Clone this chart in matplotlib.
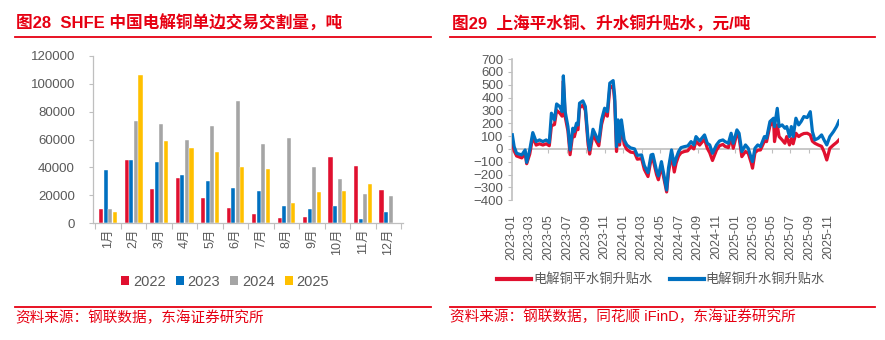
import matplotlib
matplotlib.use('Agg')
import matplotlib.pyplot as plt
import matplotlib.dates as mdates
from matplotlib.lines import Line2D
from matplotlib.patches import Patch
from matplotlib.ticker import FixedLocator
import numpy as np
import pandas as pd

plt.rcParams['font.family'] = ['Liberation Sans', 'Noto Sans CJK SC']

# ---------------- data: left chart ----------------
months = ['1月', '2月', '3月', '4月', '5月', '6月', '7月', '8月', '9月', '10月', '11月', '12月']
years = ['2022', '2023', '2024', '2025']
v2022 = [10000, 45500, 24700, 32100, 18200, 10800, 6500, 3800, 4600, 47700, 41200, 23700]
v2023 = [38300, 45500, 43800, 34500, 30200, 25100, 23200, 12500, 10300, 12200, 2900, 7900]
v2024 = [10300, 73500, 71100, 59900, 70000, 87700, 57000, 61300, 40000, 31400, 20800, 19200]
v2025 = [8100, 106300, 58700, 53700, 50800, 40000, 39000, 14400, 22000, 23200, 28000, np.nan]

# ---------------- data: right chart ----------------
dates = [
    '2023-01-03', '2023-01-09', '2023-01-17', '2023-02-03', '2023-02-14', '2023-02-19', '2023-03-01',
    '2023-03-11', '2023-03-22', '2023-04-02', '2023-04-13', '2023-04-24', '2023-05-04', '2023-05-11',
    '2023-05-21', '2023-05-28', '2023-06-07', '2023-06-15', '2023-06-19', '2023-06-25', '2023-07-04',
    '2023-07-11', '2023-07-20', '2023-07-25', '2023-08-01', '2023-08-06', '2023-08-11', '2023-08-22',
    '2023-08-30', '2023-09-08', '2023-09-13', '2023-09-24', '2023-10-05', '2023-10-13', '2023-10-22',
    '2023-11-01', '2023-11-10', '2023-11-18', '2023-11-29', '2023-12-04', '2023-12-10', '2023-12-15',
    '2023-12-20', '2023-12-26',
    '2024-01-04', '2024-01-13', '2024-01-25', '2024-02-07', '2024-02-16', '2024-03-01', '2024-03-10',
    '2024-03-22', '2024-04-01', '2024-04-07', '2024-04-19', '2024-04-25', '2024-05-05', '2024-05-13',
    '2024-05-22', '2024-05-28', '2024-06-07', '2024-06-16', '2024-06-22', '2024-06-30', '2024-07-08',
    '2024-07-19', '2024-07-30', '2024-08-10', '2024-08-19', '2024-08-26', '2024-09-07', '2024-09-14',
    '2024-09-23', '2024-10-02', '2024-10-10', '2024-10-19', '2024-11-01', '2024-11-11', '2024-11-22',
    '2024-11-29',
    '2024-12-10', '2024-12-19', '2024-12-26', '2025-01-07', '2025-01-14', '2025-01-23', '2025-02-04',
    '2025-02-13', '2025-02-23', '2025-02-27', '2025-03-07', '2025-03-16', '2025-03-25', '2025-04-07',
    '2025-04-14', '2025-04-25', '2025-05-07', '2025-05-10', '2025-05-19', '2025-05-25', '2025-06-04',
    '2025-06-13', '2025-06-19', '2025-06-28', '2025-07-04', '2025-07-10', '2025-07-19', '2025-07-28',
    '2025-08-05', '2025-08-14', '2025-08-25', '2025-09-04', '2025-09-11', '2025-09-19', '2025-09-30',
    '2025-10-11', '2025-10-19', '2025-10-28', '2025-11-07', '2025-11-19', '2025-11-29', '2025-12-07',
]
premium_flat = [  # 电解铜平水铜升贴水 (red)
    60, -15, -55, -70, -35, -115, -40, 95, 30, 40, 30, 40, 25, 180, 190, 300, 280, 255, 530, 250, 140,
    -45, 120, 95, 160, 150, 320, 340, 300, 35, -40, 115, 60, 25, 190, 280, 255, 470, 495, 370, -20, 190,
    30, 190,
    35, -5, -25, -30, -80, -75, -160, -215, -80, -75, -200, -240, -130, -230, -335, -185, -40, -180,
    -110, -55, -30, -20, -15, 20, 0, 60, 30, 50, 75, 5, -30, -90, -10, 25, 35, 20,
    10, 96, 5, 122, 90, -60, -20, -34, -110, -150, -30, -10, -8, 60, 57, 180, 213, 57, 187, 96, 70,
    44, 96, 31, 80, 40, 122, 96, 110, 120, 122, 109, 60, 44, 31, 20, -21, -86, 5, 31, 50, 70,
]
premium_high = [  # 电解铜升水铜升贴水 (blue)
    110, 18, -34, -47, -8, -105, -8, 127, 57, 70, 57, 70, 50, 278, 226, 350, 330, 290, 569, 290, 174,
    -8, 161, 135, 200, 187, 356, 374, 330, 70, -8, 153, 96, 57, 226, 317, 290, 512, 532, 408, 18, 226,
    55, 226,
    70, 30, 8, 0, -50, -47, -130, -185, -47, -42, -170, -210, -99, -202, -320, -150, -8, -125, -73,
    -21, 10, 18, 23, 57, 31, 96, 62, 83, 109, 44, 31, -34, 31, 62, 70, 57,
    44, 122, 44, 148, 122, -21, 31, 5, -73, -99, 5, 31, 18, 96, 83, 213, 239, 174, 316, 174, 187,
    161, 174, 96, 174, 96, 239, 187, 213, 252, 244, 290, 135, 70, 83, 109, 70, 31, 96, 135, 174, 218,
]
series_names = ['电解铜平水铜升贴水', '电解铜升水铜升贴水']

# ---------------- style ----------------
W, H = 885, 340
RED_TXT = '#E60012'
C_RED = '#E0102F'
C_BLUE = '#0070C0'
C_GRAY = '#A5A5A5'
C_YEL = '#FFC000'
TICK_C = '#595959'
SPINE_C = '#BFBFBF'

fig = plt.figure(figsize=(W / 100, H / 100), dpi=100)
fig.patch.set_facecolor('white')


def px_axes(x0, y0, x1, y1):
    return fig.add_axes([x0 / W, 1 - y1 / H, (x1 - x0) / W, (y1 - y0) / H])


def hline(x0, x1, y, lw=1.3):
    fig.add_artist(Line2D([x0 / W, x1 / W], [1 - y / H, 1 - y / H], color=RED_TXT, lw=lw,
                          transform=fig.transFigure))


# titles and source lines
fig.text(16 / W, 1 - 23 / H, '图28  SHFE 中国电解铜单边交易交割量，吨', color=RED_TXT,
         fontsize=12, fontweight='bold', va='center', ha='left')
fig.text(452 / W, 1 - 23 / H, '图29  上海平水铜、升水铜升贴水，元/吨', color=RED_TXT,
         fontsize=12, fontweight='bold', va='center', ha='left')
hline(15, 431, 36.5)
hline(450, 875, 36.5)
hline(15, 431, 306.5)
hline(450, 875, 306.5)
fig.text(15 / W, 1 - 318 / H, '资料来源：钢联数据，东海证券研究所', color=RED_TXT,
         fontsize=10.5, va='center', ha='left')
fig.text(450 / W, 1 - 317 / H, '资料来源：钢联数据，同花顺 iFinD，东海证券研究所', color=RED_TXT,
         fontsize=10.5, va='center', ha='left')

# ---------------- left chart ----------------
ax1 = px_axes(93, 56, 403, 223)
x = np.arange(len(months))
vals = [v2022, v2023, v2024, v2025]
cols = [C_RED, C_BLUE, C_GRAY, C_YEL]
bw = 0.165
step = 0.18
for i, (v, c) in enumerate(zip(vals, cols)):
    ax1.bar(x + (i - 1.5) * step, v, width=bw, color=c, edgecolor='white', linewidth=0.3,
            label=years[i])
ax1.set_xlim(-0.59, len(months) - 0.43)
ax1.set_ylim(0, 120000)
ax1.set_yticks(np.arange(0, 120001, 20000))
ax1.set_xticks(x)
ax1.set_xticklabels(months, rotation=90)
ax1.xaxis.set_minor_locator(FixedLocator(np.arange(-0.5, len(months), 1.0)))
ax1.tick_params(axis='x', which='major', length=0, pad=4, labelsize=9, labelcolor=TICK_C)
ax1.tick_params(axis='x', which='minor', length=4, color=SPINE_C, width=0.8)
ax1.tick_params(axis='y', length=3, color=SPINE_C, width=0.8, labelsize=9.5, labelcolor=TICK_C, pad=10)
for s in ['top', 'right']:
    ax1.spines[s].set_visible(False)
for s in ['left', 'bottom']:
    ax1.spines[s].set_color(SPINE_C)
    ax1.spines[s].set_linewidth(0.9)

handles = [Patch(facecolor=c, edgecolor='none') for c in cols]
fig.legend(handles, years, loc='center', bbox_to_anchor=(225 / W, 1 - 282 / H), ncol=4,
           frameon=False, fontsize=10.5, handlelength=0.55, handleheight=0.55, handletextpad=0.25,
           columnspacing=0.7, labelcolor=TICK_C)

# ---------------- right chart ----------------
ax2 = px_axes(511.7, 59, 839, 200.3)
d = pd.to_datetime(dates)
ax2.plot(d, premium_flat, color=C_RED, lw=2.3, solid_joinstyle='round', label=series_names[0], zorder=3)
ax2.plot(d, premium_high, color=C_BLUE, lw=2.3, solid_joinstyle='round', label=series_names[1], zorder=4)
ax2.set_ylim(-400, 700)
ax2.set_yticks(np.arange(-400, 701, 100))
ax2.set_xlim(pd.Timestamp('2023-01-01'), d[-1])
ax2.xaxis.set_major_locator(mdates.MonthLocator(bymonth=[1, 3, 5, 7, 9, 11]))
ax2.xaxis.set_major_formatter(mdates.DateFormatter('%Y-%m'))
ax2.spines['bottom'].set_position(('data', 0))
for s in ['top', 'right']:
    ax2.spines[s].set_visible(False)
for s in ['left', 'bottom']:
    ax2.spines[s].set_color(SPINE_C)
    ax2.spines[s].set_linewidth(1.2)
ax2.spines['bottom'].set_zorder(1)
for lab in ax2.get_xticklabels():
    lab.set_rotation(90)
ax2.tick_params(axis='x', length=3, color=SPINE_C, width=0.8, labelsize=9, labelcolor=TICK_C, pad=44)
ax2.tick_params(axis='y', length=3, color=SPINE_C, width=0.8, labelsize=9.5, labelcolor=TICK_C, pad=3)

lh = [Line2D([], [], color=C_RED, lw=3), Line2D([], [], color=C_BLUE, lw=3)]
fig.legend(lh, series_names, loc='center', bbox_to_anchor=(661 / W, 1 - 280 / H), ncol=2,
           frameon=False, fontsize=9.5, handlelength=2.6, handletextpad=0.15, columnspacing=1.3,
           labelcolor=TICK_C)

fig.savefig('out.png', dpi=100, facecolor='white')
